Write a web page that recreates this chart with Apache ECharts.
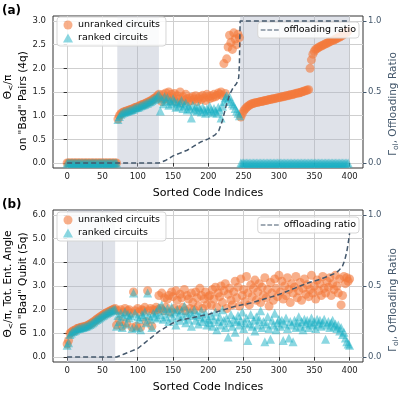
<!DOCTYPE html>
<html>
<head>
<meta charset="utf-8">
<script src="https://cdn.jsdelivr.net/npm/echarts@6/dist/echarts.min.js"></script>
<style>
  html, body { margin: 0; padding: 0; background: #fff; }
  #main { width: 400px; height: 400px; }
</style>
</head>
<body>
<div id="main"></div>
<script>
// x ticks and y ticks
const xTicks = [0, 50, 100, 150, 200, 250, 300, 350, 400];
const aLeftTicks = [0, 0.5, 1.0, 1.5, 2.0, 2.5, 3.0];
const bLeftTicks = [0, 1, 2, 3, 4, 5, 6];
const rightTicks = [0, 0.5, 1.0];

// panel (a): sorted code index, every 2nd circuit (0..398)
const aIdx = Array.from({ length: 200 }, (_, k) => 2 * k);
const aUnranked = [
  // 0-70
  0,0,0,0,0,0,0,0,0,0,0,0,0,0,0,0,0,0,0,0,0,0,0,0,0,0,0,0,0,0,0,0,0,0,0,0,
  // 72-130
  0.93,1.0,1.04,1.06,1.08,1.09,1.1,1.11,1.12,1.13,
  1.14,1.15,1.17,1.18,1.19,1.2,1.22,1.23,1.24,1.25,
  1.27,1.28,1.3,1.31,1.33,1.35,1.37,1.39,1.42,1.45,
  // 132-244
  1.38,1.3,1.45,1.35,1.48,1.4,1.5,1.32,1.45,1.38,1.47,1.3,1.42,1.35,1.5,1.28,1.4,1.33,1.45,1.36,
  1.3,1.38,1.32,1.4,1.35,1.42,1.3,1.36,1.4,1.34,1.43,1.38,1.32,1.45,1.4,1.36,1.42,1.38,1.45,1.4,
  1.43,1.48,1.45,1.5,1.42,2.1,1.47,2.2,2.45,2.7,2.55,2.4,2.75,2.62,2.5,2.72,2.65,
  // 246-342
  0.97,1.04,1.1,1.14,1.17,1.2,1.22,1.24,1.25,1.26,
  1.27,1.28,1.28,1.29,1.3,1.3,1.31,1.32,1.32,1.33,
  1.34,1.34,1.35,1.36,1.36,1.37,1.38,1.38,1.39,1.4,
  1.4,1.41,1.42,1.42,1.43,1.44,1.44,1.45,1.46,1.47,
  1.48,1.48,1.49,1.5,1.51,1.52,1.53,1.54,1.55,
  // 344-398
  2.0,2.18,2.3,2.36,2.4,2.42,2.44,2.46,2.47,2.49,2.5,2.52,2.53,2.55,
  2.56,2.58,2.59,2.6,2.62,2.63,2.65,2.66,2.68,2.7,2.72,2.74,2.76,2.79
];
const aRanked = [
  0,0,0,0,0,0,0,0,0,0,0,0,0,0,0,0,0,0,0,0,0,0,0,0,0,0,0,0,0,0,0,0,0,0,0,0,
  0.92,0.98,1.03,1.05,1.07,1.08,1.09,1.1,1.11,1.12,
  1.13,1.14,1.16,1.17,1.18,1.19,1.21,1.22,1.23,1.24,
  1.26,1.27,1.29,1.3,1.32,1.34,1.36,1.38,1.41,1.44,
  1.1,1.35,1.25,1.4,1.3,1.38,1.22,1.32,1.25,1.36,1.3,1.18,1.28,1.2,1.25,1.32,1.15,1.22,1.27,1.12,
  1.2,1.15,0.95,1.22,1.12,1.18,1.1,1.2,1.14,1.08,1.18,1.12,1.05,1.15,1.1,1.2,1.12,1.06,1.15,1.1,
  1.05,1.18,1.12,0.95,1.2,1.3,1.38,1.42,1.35,1.4,1.3,1.25,1.22,1.15,1.1,1.05,1.0,
  0,0,0,0,0,0,0,0,0,0,0,0,0,0,0,0,0,0,0,0,0,0,0,0,0,0,0,0,0,0,0,0,0,0,0,0,0,0,0,0,0,0,0,0,0,0,0,0,0,
  0,0,0,0,0,0,0,0,0,0,0,0,0,0,0,0,0,0,0,0,0,0,0,0,0,0,0,0
];
const aLineIdx = [0, 130, 140, 150, 160, 170, 180, 190, 200, 210, 215, 220, 225, 230, 235, 240, 243, 244, 245, 399];
const aLine = [0, 0, 0.02, 0.05, 0.07, 0.09, 0.12, 0.15, 0.17, 0.2, 0.23, 0.3, 0.4, 0.48, 0.53, 0.56, 0.6, 0.7, 1.0, 1.0];
const aShade = [[71, 130], [245, 400]];

// panel (b): every 2nd circuit (0..400)
const bIdx = Array.from({ length: 201 }, (_, k) => 2 * k);
const bUnranked = [
  // 0-68
  0.55,0.7,1.0,1.05,1.1,1.12,1.15,1.2,1.22,1.24,1.26,1.27,1.28,1.3,1.32,1.35,1.38,1.42,1.46,1.5,
  1.55,1.6,1.64,1.68,1.72,1.76,1.8,1.84,1.87,1.9,1.93,1.96,1.99,2.02,2.05,
  // 70-130
  1.35,1.95,1.55,2.0,1.3,1.9,2.05,1.45,1.95,2.0,1.85,1.25,2.75,1.95,1.3,2.05,1.9,1.25,2.0,1.95,
  2.1,1.5,2.8,1.95,2.05,1.3,2.0,1.95,2.1,2.0,2.6,
  // 132-200
  2.05,2.7,1.95,2.5,2.1,2.45,2.6,1.9,2.75,2.55,2.05,2.8,2.4,2.0,2.65,2.5,2.1,2.85,1.95,2.6,
  2.45,2.05,2.7,2.3,2.0,2.75,2.5,2.15,2.9,2.6,2.05,2.45,2.75,2.2,2.55,
  // 202-300
  2.6,2.2,2.85,2.45,2.95,2.1,2.7,2.55,3.0,2.3,2.8,3.1,2.05,2.65,2.9,2.4,2.2,2.75,3.2,2.5,
  2.95,2.15,3.3,2.6,2.85,2.35,3.4,2.7,2.2,3.05,2.55,2.9,3.25,2.4,2.75,3.1,2.3,2.95,2.6,3.35,
  2.5,2.85,2.15,3.15,2.7,2.4,3.3,2.9,2.55,3.45,
  // 302-400
  2.75,3.2,2.45,3.0,2.6,3.35,2.85,2.3,3.1,2.7,2.95,3.4,2.5,2.8,3.15,2.4,2.9,3.3,2.65,3.05,
  2.55,2.85,3.45,2.7,3.0,2.45,3.25,2.8,3.1,2.6,3.4,2.9,2.7,3.2,2.95,3.35,2.6,3.1,2.85,3.45,
  3.0,2.7,3.3,2.2,2.6,3.4,3.1,3.35,3.2,3.3
];
const bRanked = [
  0.5,0.6,0.95,1.02,1.08,1.1,1.13,1.18,1.2,1.22,1.24,1.25,1.27,1.29,1.31,1.34,1.37,1.41,1.45,1.49,
  1.54,1.58,1.62,1.66,1.7,1.74,1.78,1.82,1.85,1.88,1.91,1.94,1.97,2.0,2.02,
  1.3,1.75,1.5,1.85,1.25,1.7,1.9,1.4,1.8,1.65,1.75,1.2,2.7,1.85,1.25,1.7,1.6,1.15,1.8,1.7,
  1.9,1.45,2.7,1.75,1.6,1.25,1.85,1.7,1.9,1.65,2.1,
  1.8,2.2,1.6,1.95,1.7,2.05,1.5,1.85,2.1,1.65,1.9,1.35,2.0,1.75,1.55,1.95,1.7,2.15,1.45,1.85,
  1.6,1.9,1.3,1.75,2.0,1.55,1.8,1.4,1.7,1.95,1.5,1.65,1.85,1.35,1.6,
  1.45,1.75,1.3,1.6,1.9,1.15,1.5,1.7,1.35,2.0,1.55,1.25,1.65,0.85,1.45,1.8,1.3,1.6,1.05,1.5,
  1.75,1.35,1.55,1.9,1.2,1.45,1.65,0.7,1.4,1.8,1.3,1.55,1.1,1.7,1.35,1.6,1.95,1.25,1.5,0.65,
  1.4,1.7,1.2,0.75,1.55,1.35,1.85,1.15,1.45,1.6,
  1.3,1.55,0.7,1.4,1.65,1.2,0.8,1.5,1.35,0.65,1.55,1.25,1.45,1.7,1.3,1.5,1.15,1.6,1.4,1.55,
  1.25,1.45,1.65,1.35,1.5,1.2,1.6,1.4,1.55,1.3,1.45,1.6,0.75,1.35,1.5,1.25,1.45,1.55,1.3,1.4,
  1.2,1.35,1.1,1.25,0.95,1.05,0.8,0.65,0.55,0.5
];
const bLineIdx = [0, 70, 80, 90, 100, 110, 120, 130, 140, 150, 160, 170, 180, 190, 200, 220, 240, 260, 280, 300, 320, 340, 360, 380, 385, 390, 393, 396, 398, 400];
const bLine = [0, 0, 0.02, 0.04, 0.06, 0.1, 0.14, 0.18, 0.21, 0.24, 0.26, 0.27, 0.28, 0.29, 0.3, 0.33, 0.36, 0.38, 0.41, 0.44, 0.48, 0.52, 0.55, 0.59, 0.61, 0.64, 0.68, 0.74, 0.8, 0.87];
const bShade = [[0, 68]];

const FONT = 'DejaVu Sans';
const ORANGE = '#f47a3c';
const CYAN = '#17afc4';
const SLATE = '#44586c';
const DASH_ICON = 'path://M0 0h5v1H0z M7 0h5v1H7z M14 0h5v1h-5z';

function pairs(xs, ys) {
  return xs.map((x, k) => [x, ys[k]]);
}

function xAxisFor(grid) {
  return {
    type: 'value', gridIndex: grid, min: -20, max: 419,
    name: 'Sorted Code Indices', nameLocation: 'middle', nameGap: 20,
    nameTextStyle: { fontFamily: FONT, fontSize: 11, color: '#000' },
    axisLine: { show: false },
    axisTick: { length: 3.5, lineStyle: { color: '#333' }, customValues: xTicks },
    axisLabel: { fontFamily: FONT, fontSize: 8.5, color: '#222', margin: 4, customValues: xTicks },
    splitLine: { show: true, lineStyle: { color: '#cfcfcf', width: 1 } }
  };
}

function leftAxisFor(grid, min, max, ticks) {
  return {
    type: 'value', gridIndex: grid, min: min, max: max,
    axisLine: { show: false },
    axisTick: { length: 3.5, lineStyle: { color: '#333' }, customValues: ticks },
    axisLabel: { fontFamily: FONT, fontSize: 8.5, color: '#222', margin: 7, customValues: ticks,
      formatter: v => v.toFixed(1) },
    splitLine: { show: true, lineStyle: { color: '#cfcfcf', width: 1 } }
  };
}

function rightAxisFor(grid) {
  return {
    type: 'value', gridIndex: grid, position: 'right', min: -0.035, max: 1.035,
    axisLine: { show: false },
    axisTick: { length: 3.5, lineStyle: { color: SLATE }, customValues: rightTicks },
    axisLabel: { fontFamily: FONT, fontSize: 8.5, color: SLATE, margin: 5, customValues: rightTicks,
      formatter: v => v.toFixed(1) },
    splitLine: { show: false }
  };
}

// rotated axis titles, one text element per line
function vText(x, y, text, color) {
  return {
    type: 'text', x: x, y: y, rotation: Math.PI / 2, silent: true,
    style: {
      text: text, fill: color, align: 'center', verticalAlign: 'middle',
      font: '10.5px "DejaVu Sans"',
      rich: {
        n: { fontFamily: FONT, fontSize: 10.5, fill: color },
        s: { fontFamily: FONT, fontSize: 7.5, fill: color, padding: [7, 0, 0, 0] }
      }
    }
  };
}

function panelSeries(grid, idx, unranked, ranked, lineIdx, line, shade) {
  return [
    {
      name: 'unranked circuits', type: 'scatter', xAxisIndex: grid, yAxisIndex: 2 * grid,
      symbol: 'circle', symbolSize: 9, z: 2,
      itemStyle: { color: ORANGE, opacity: 0.6 },
      data: pairs(idx, unranked)
    },
    {
      name: 'ranked circuits', type: 'scatter', xAxisIndex: grid, yAxisIndex: 2 * grid,
      symbol: 'triangle', symbolSize: 9, z: 3,
      itemStyle: { color: CYAN, opacity: 0.5 },
      data: pairs(idx, ranked)
    },
    {
      name: 'offloading ratio', type: 'line', xAxisIndex: grid, yAxisIndex: 2 * grid + 1,
      symbol: 'none', z: 4,
      itemStyle: { color: SLATE },
      lineStyle: { color: SLATE, width: 1.5, type: [5, 3] },
      data: pairs(lineIdx, line),
      markArea: {
        silent: true,
        itemStyle: { color: 'rgba(170,180,198,0.38)' },
        data: shade.map(s => [{ xAxis: s[0] }, { xAxis: s[1] }])
      }
    }
  ];
}

function legends(top) {
  const box = {
    backgroundColor: 'rgba(255,255,255,0.85)', borderColor: '#d6d6d6', borderWidth: 1,
    borderRadius: 3, textStyle: { fontFamily: FONT, fontSize: 9.5, color: '#000' }
  };
  return [
    Object.assign({}, box, {
      left: 57, top: top, orient: 'vertical', itemGap: 3, itemWidth: 10, itemHeight: 9,
      padding: [3, 6, 3, 6],
      data: [
        { name: 'unranked circuits', icon: 'circle', itemStyle: { color: ORANGE, opacity: 0.6 } },
        { name: 'ranked circuits', icon: 'triangle', itemStyle: { color: CYAN, opacity: 0.5 } }
      ]
    }),
    Object.assign({}, box, {
      right: 41, top: top + 5, itemWidth: 18, itemHeight: 1.5, itemGap: 3, padding: [3, 3, 3, 3],
      data: [{ name: 'offloading ratio', icon: DASH_ICON, itemStyle: { color: SLATE } }]
    })
  ];
}

const gridBase = {
  left: 53, width: 310, height: 152, show: true, borderColor: '#333', borderWidth: 1,
  backgroundColor: 'transparent', containLabel: false, outerBoundsMode: 'none'
};

const chart = echarts.init(document.getElementById('main'), null, { renderer: 'canvas' });
chart.setOption({
  animation: false,
  backgroundColor: '#fff',
  grid: [
    Object.assign({}, gridBase, { top: 16 }),
    Object.assign({}, gridBase, { top: 210 })
  ],
  legend: legends(17).concat(legends(212)),
  graphic: [
    { type: 'text', left: 2, top: 5, style: { text: '(a)', font: 'bold 12px "DejaVu Sans"', fill: '#000' } },
    { type: 'text', left: 2, top: 199, style: { text: '(b)', font: 'bold 12px "DejaVu Sans"', fill: '#000' } },
    vText(8, 87, '{n|Θ}{s|<}{n|/π}', '#000'),
    vText(23, 101, 'on "Bad" Pairs (4q)', '#000'),
    vText(8, 284, '{n|Θ}{s|<}{n|/π, Tot. Ent. Angle}', '#000'),
    vText(23, 284, 'on "Bad" Qubit (5q)', '#000'),
    vText(393, 104, '{n|Γ}{s|ol}{n|, Offloading Ratio}', SLATE),
    vText(393, 300, '{n|Γ}{s|ol}{n|, Offloading Ratio}', SLATE)
  ],
  xAxis: [xAxisFor(0), xAxisFor(1)],
  yAxis: [
    leftAxisFor(0, -0.106, 3.106, aLeftTicks),
    rightAxisFor(0),
    leftAxisFor(1, -0.21, 6.21, bLeftTicks),
    rightAxisFor(1)
  ],
  series: panelSeries(0, aIdx, aUnranked, aRanked, aLineIdx, aLine, aShade)
    .concat(panelSeries(1, bIdx, bUnranked, bRanked, bLineIdx, bLine, bShade))
});
</script>
</body>
</html>
